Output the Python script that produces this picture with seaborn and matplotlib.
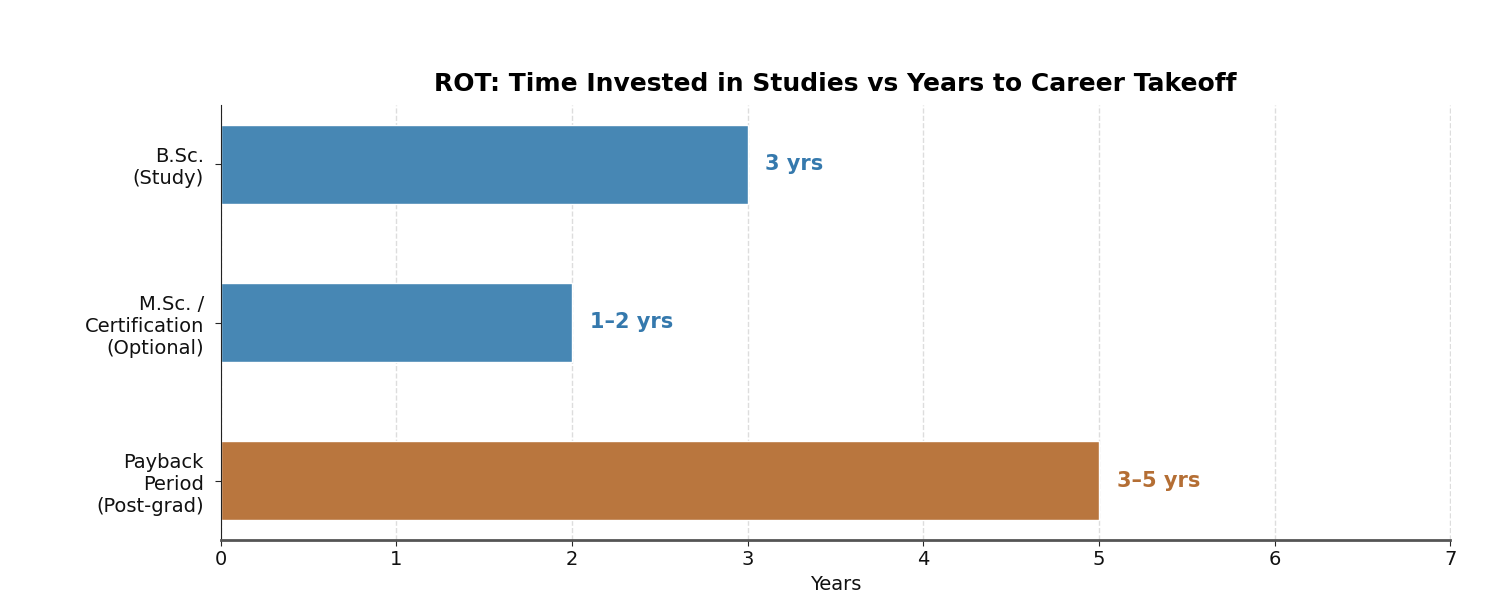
import pandas as pd
import seaborn as sns
import matplotlib.pyplot as plt

# data
categories = ["B.Sc.\n(Study)", "M.Sc. /\nCertification\n(Optional)", "Payback\nPeriod\n(Post-grad)"]
years = [3, 2, 5]
bar_labels = ["3 yrs", "1–2 yrs", "3–5 yrs"]
colors = ["#4787b4", "#4787b4", "#b9763e"]
label_colors = ["#3579ad", "#3579ad", "#b46e34"]

df = pd.DataFrame({"stage": categories, "years": years})

sns.set_style("white")
plt.rcParams["font.family"] = ["DejaVu Sans"]

fig = plt.figure(figsize=(15, 6), dpi=100)
ax = fig.add_axes([0.147, 0.1, 0.82, 0.725])

sns.barplot(data=df, x="years", y="stage", hue="stage", palette=colors,
            width=0.5, orient="h", legend=False, saturation=1, ax=ax)

for i, (v, lab) in enumerate(zip(years, bar_labels)):
    ax.text(v + 0.1, i, lab, va="center", ha="left", fontsize=15,
            fontweight="bold", color=label_colors[i])

ax.set_xlim(0, 7)
ax.set_ylim(2.375, -0.375)
ax.set_xticks(range(0, 8))
ax.grid(axis="x", linestyle="--", color="#dddddd", linewidth=1)
ax.set_axisbelow(True)
ax.set_ylabel("")
ax.set_xlabel("Years", fontsize=14, color="#111111")
ax.tick_params(axis="both", labelsize=14, length=4, left=True, bottom=True,
               labelcolor="#111111")
ax.tick_params(axis="y", pad=8)
ax.set_title("ROT: Time Invested in Studies vs Years to Career Takeoff",
             fontsize=18, fontweight="bold", pad=10, color="black")

sns.despine(ax=ax, top=True, right=True)
ax.spines["left"].set_color("#222222")
ax.spines["bottom"].set_color("#555555")
ax.spines["bottom"].set_linewidth(2)

fig.savefig("out.png", dpi=100)
